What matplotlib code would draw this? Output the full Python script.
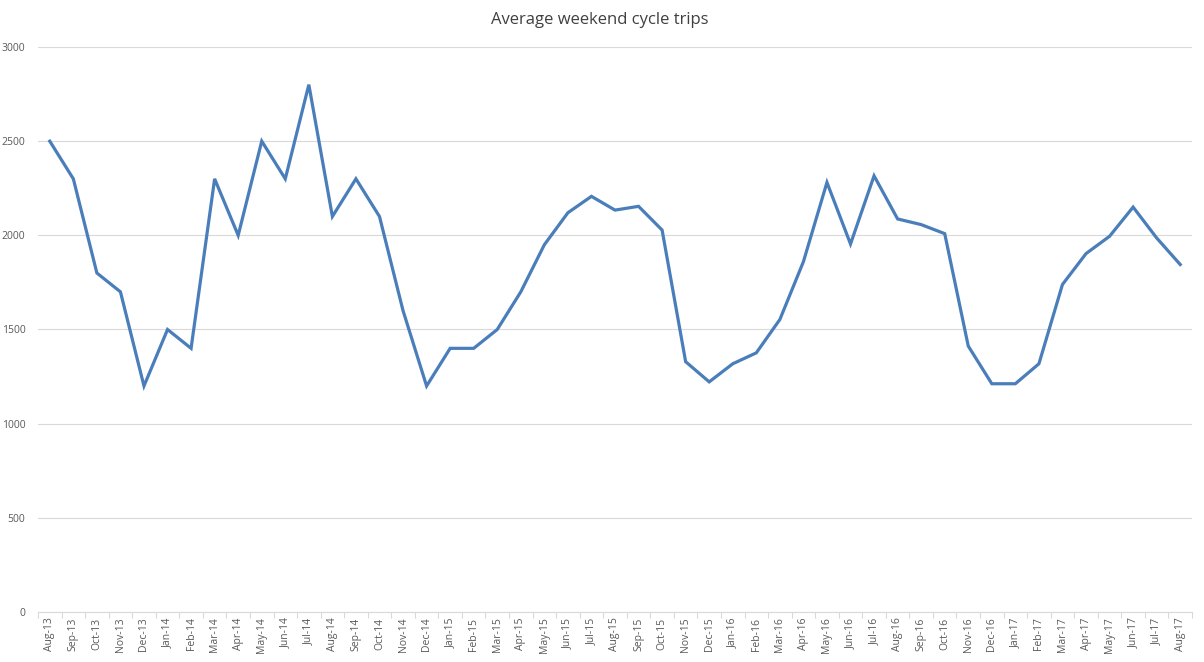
import matplotlib
matplotlib.use("Agg")
import matplotlib.pyplot as plt
import numpy as np

months = ["Aug-13", "Sep-13", "Oct-13", "Nov-13", "Dec-13", "Jan-14", "Feb-14", "Mar-14",
          "Apr-14", "May-14", "Jun-14", "Jul-14", "Aug-14", "Sep-14", "Oct-14", "Nov-14",
          "Dec-14", "Jan-15", "Feb-15", "Mar-15", "Apr-15", "May-15", "Jun-15", "Jul-15",
          "Aug-15", "Sep-15", "Oct-15", "Nov-15", "Dec-15", "Jan-16", "Feb-16", "Mar-16",
          "Apr-16", "May-16", "Jun-16", "Jul-16", "Aug-16", "Sep-16", "Oct-16", "Nov-16",
          "Dec-16", "Jan-17", "Feb-17", "Mar-17", "Apr-17", "May-17", "Jun-17", "Jul-17",
          "Aug-17"]
trips = [2500, 2300, 1800, 1700, 1200, 1500, 1400, 2300,
         2000, 2500, 2300, 2800, 2100, 2300, 2100, 1600,
         1200, 1400, 1400, 1500, 1700, 1950, 2120, 2207,
         2134, 2154, 2028, 1329, 1222, 1318, 1376, 1553,
         1860, 2281, 1954, 2316, 2087, 2057, 2009, 1412,
         1212, 1212, 1318, 1739, 1903, 1995, 2150, 1986,
         1845]
yticks = [0, 500, 1000, 1500, 2000, 2500, 3000]

plt.rcParams['font.family'] = ['Open Sans', 'DejaVu Sans']
fig = plt.figure(figsize=(12.04, 6.62), dpi=100)
ax = fig.add_axes([38/1204, 1-612/662, (1192-38)/1204, (612-47)/662])

x = np.arange(len(months))
ax.plot(x, trips, color="#4A7EBB", lw=2.3, solid_joinstyle='miter', zorder=3)

ax.set_xlim(-0.5, len(months) - 0.5)
ax.set_ylim(0, 3000)
ax.set_yticks(yticks)
ax.set_yticklabels([str(v) for v in yticks])
ax.set_xticks(x)
ax.set_xticklabels(months, rotation=90, fontsize=7.5, color="#595959")
ax.set_xticks(np.arange(-0.5, len(months)), minor=True)
ax.tick_params(axis='x', which='major', length=0, pad=4)
ax.tick_params(axis='x', which='minor', length=4, color="#D9D9D9", width=0.8)
ax.tick_params(axis='y', length=0, labelsize=7.5, labelcolor="#595959", pad=9)

ax.grid(axis='y', color="#D9D9D9", lw=0.8)
ax.set_axisbelow(True)
for s in ['top', 'right', 'left']:
    ax.spines[s].set_visible(False)
ax.spines['bottom'].set_color("#D9D9D9")
ax.spines['bottom'].set_linewidth(0.8)

fig.text(0.4985, 1-20/662, "Average weekend cycle trips", ha='center', va='center',
         fontsize=12, color="#404040")

fig.savefig("out.png", dpi=100)
